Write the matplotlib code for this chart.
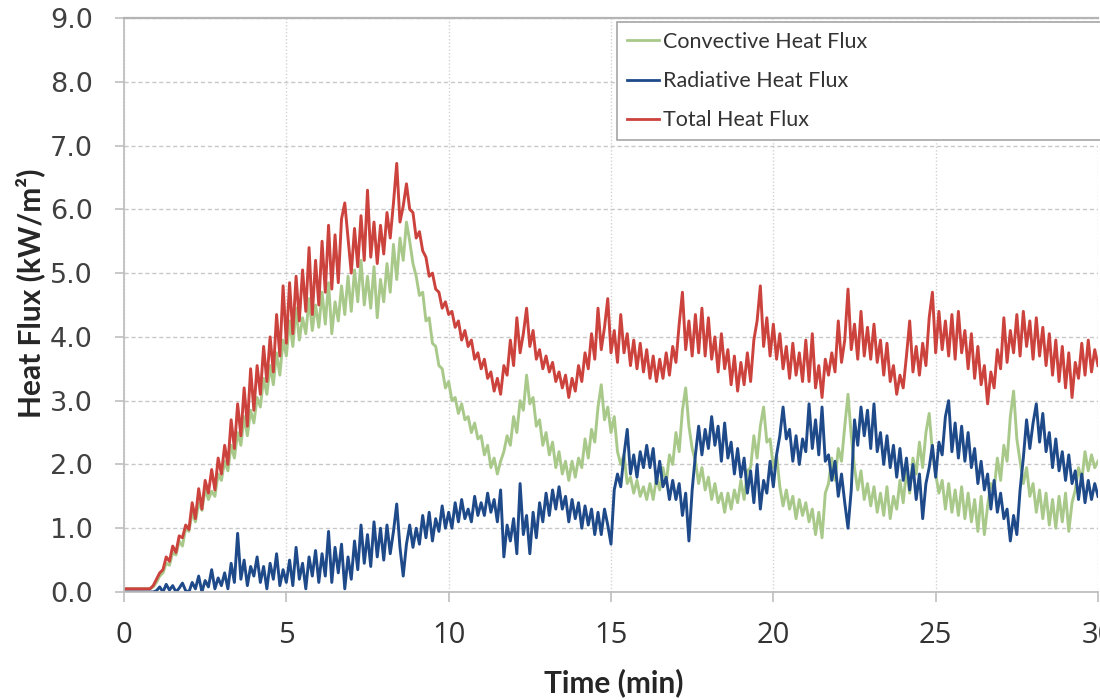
import numpy as np
import matplotlib.pyplot as plt
from matplotlib.ticker import FormatStrFormatter

# one sample every 0.1 min, 0 .. 30 min
time_min = np.round(np.arange(301) * 0.1, 1)

convective = [
    0.05, 0.05, 0.05, 0.05, 0.05, 0.05, 0.05, 0.05, 0.05, 0.08,
    0.15, 0.25, 0.30, 0.45, 0.42, 0.62, 0.58, 0.80, 0.72, 1.00,
    0.95, 1.25, 1.10, 1.40, 1.28, 1.62, 1.45, 1.58, 1.50, 1.85,
    1.75, 2.05, 1.90, 2.30, 2.10, 2.50, 2.30, 2.75, 2.45, 2.85,
    2.65, 3.05, 2.90, 3.35, 3.10, 3.55, 3.25, 3.75, 3.40, 3.95,
    3.70, 4.25, 3.85, 4.45, 3.95, 4.30, 4.05, 4.60, 4.10, 4.50,
    4.15, 4.70, 4.20, 4.85, 4.05, 4.55, 4.25, 4.80, 4.35, 4.95,
    4.40, 5.05, 4.55, 5.20, 4.50, 4.95, 4.45, 5.10, 4.30, 4.90,
    4.55, 5.15, 4.70, 5.45, 4.90, 5.55, 5.20, 5.80, 5.50, 5.15,
    4.95, 4.65, 4.70, 4.25, 4.30, 3.90, 3.85, 3.55, 3.50, 3.20,
    3.30, 3.00, 3.05, 2.80, 2.95, 2.70, 2.75, 2.50, 2.65, 2.40,
    2.45, 2.15, 2.30, 1.95, 2.10, 1.85, 2.05, 2.20, 2.45, 2.30,
    2.75, 2.50, 3.00, 2.85, 3.40, 2.95, 3.05, 2.60, 2.70, 2.30,
    2.50, 2.15, 2.35, 1.95, 2.20, 1.85, 2.05, 1.75, 2.05, 1.80,
    2.10, 1.95, 2.40, 2.10, 2.55, 2.35, 2.90, 3.25, 2.70, 2.90,
    2.50, 2.75, 2.20, 2.00, 2.15, 1.70, 1.80, 1.55, 1.75, 1.50,
    1.65, 1.45, 1.70, 1.45, 1.80, 1.60, 1.95, 1.70, 2.15, 2.00,
    2.50, 2.20, 2.85, 3.20, 2.60, 2.25, 2.05, 1.70, 1.95, 1.60,
    1.80, 1.45, 1.70, 1.40, 1.55, 1.25, 1.55, 1.30, 1.60, 1.40,
    1.75, 1.45, 1.90, 1.95, 2.45, 2.10, 2.60, 2.90, 2.35, 2.40,
    1.95, 2.15, 1.65, 1.35, 1.60, 1.30, 1.50, 1.15, 1.45, 1.20,
    1.40, 1.10, 1.30, 0.90, 1.25, 0.85, 1.55, 1.70, 2.10, 1.75,
    2.25, 2.05, 2.60, 3.10, 2.45, 1.95, 1.60, 1.90, 1.45, 1.70,
    1.35, 1.65, 1.25, 1.55, 1.20, 1.65, 1.15, 1.50, 1.30, 1.75,
    1.40, 1.90, 1.55, 2.10, 1.85, 2.35, 1.95, 2.50, 2.80, 2.20,
    1.85, 1.55, 1.75, 1.30, 1.70, 1.25, 1.60, 1.20, 1.65, 1.15,
    1.55, 1.10, 1.45, 0.95, 1.50, 0.90, 1.35, 1.70, 1.60, 2.10,
    1.75, 2.30, 2.05, 2.75, 3.15, 2.40, 2.05, 1.70, 1.95, 1.50,
    1.70, 1.25, 1.60, 1.15, 1.55, 1.05, 1.45, 1.00, 1.50, 1.10,
    1.55, 0.95, 1.40, 1.60, 1.95, 1.75, 2.20, 1.90, 2.15, 1.95,
    2.05,
]

radiative = [
    0.00, 0.00, 0.00, 0.00, 0.00, 0.00, 0.00, 0.00, 0.00, 0.00,
    0.02, 0.08, 0.00, 0.12, 0.03, 0.10, 0.00, 0.06, 0.14, 0.02,
    0.00, 0.15, 0.05, 0.25, 0.00, 0.18, 0.08, 0.35, 0.05, 0.22,
    0.10, 0.30, 0.05, 0.45, 0.15, 0.92, 0.20, 0.50, 0.10, 0.40,
    0.25, 0.55, 0.15, 0.40, 0.05, 0.45, 0.20, 0.60, 0.10, 0.35,
    0.15, 0.50, 0.10, 0.70, 0.20, 0.45, 0.05, 0.55, 0.25, 0.65,
    0.15, 0.60, 0.25, 0.95, 0.15, 0.70, 0.30, 0.75, 0.05, 0.55,
    0.20, 0.80, 0.35, 1.05, 0.45, 0.90, 0.40, 1.10, 0.55, 1.00,
    0.50, 1.05, 0.60, 0.95, 1.38, 0.70, 0.25, 0.75, 1.05, 0.70,
    1.00, 0.75, 1.20, 0.85, 1.25, 0.80, 1.15, 0.95, 1.35, 1.00,
    1.25, 1.00, 1.40, 1.10, 1.45, 1.15, 1.30, 1.10, 1.50, 1.20,
    1.40, 1.20, 1.55, 1.25, 1.45, 1.10, 1.60, 0.55, 1.05, 0.80,
    1.15, 0.60, 1.70, 0.90, 1.20, 0.60, 1.25, 0.85, 1.40, 1.10,
    1.55, 1.20, 1.60, 1.30, 1.65, 1.30, 1.50, 1.10, 1.45, 1.15,
    1.40, 1.00, 1.35, 1.05, 1.30, 0.90, 1.25, 0.90, 1.30, 1.05,
    0.75, 1.60, 1.85, 1.65, 2.15, 2.55, 1.85, 2.15, 1.80, 2.20,
    1.95, 2.30, 1.95, 2.25, 1.70, 2.05, 1.65, 1.80, 1.45, 1.75,
    1.45, 1.70, 1.20, 1.55, 0.80, 1.60, 2.15, 2.60, 2.15, 2.55,
    2.25, 2.75, 2.30, 2.60, 2.05, 2.65, 2.10, 2.35, 1.85, 2.25,
    1.80, 2.10, 1.55, 1.90, 1.40, 2.00, 1.30, 1.75, 1.55, 2.05,
    1.65, 2.15, 2.45, 2.90, 2.40, 2.55, 2.05, 2.45, 2.00, 2.40,
    2.20, 2.95, 2.25, 2.70, 2.15, 2.90, 2.05, 2.15, 1.75, 2.05,
    1.50, 1.85, 1.40, 1.00, 1.60, 2.70, 2.30, 2.90, 2.45, 2.85,
    2.25, 2.95, 2.20, 2.50, 2.00, 2.45, 1.95, 2.30, 1.80, 2.25,
    1.75, 2.10, 1.60, 2.00, 1.45, 1.85, 1.15, 1.70, 1.95, 2.30,
    1.80, 2.35, 2.15, 2.75, 3.00, 2.20, 2.65, 2.10, 2.60, 2.05,
    2.50, 1.95, 2.25, 1.70, 2.05, 1.60, 1.85, 1.30, 1.75, 1.25,
    1.55, 1.15, 1.30, 0.80, 1.20, 0.90, 1.60, 2.10, 2.70, 2.25,
    2.65, 2.95, 2.35, 2.80, 2.20, 2.50, 1.95, 2.40, 1.90, 2.20,
    1.75, 2.15, 1.70, 1.90, 1.45, 1.85, 1.40, 1.75, 1.45, 1.70,
    1.50,
]

total = [
    0.05, 0.05, 0.05, 0.05, 0.05, 0.05, 0.05, 0.05, 0.05, 0.10,
    0.20, 0.30, 0.35, 0.55, 0.48, 0.72, 0.62, 0.88, 0.85, 1.05,
    0.98, 1.40, 1.15, 1.62, 1.30, 1.75, 1.55, 1.92, 1.60, 2.10,
    1.85, 2.30, 2.00, 2.70, 2.25, 2.95, 2.45, 3.20, 2.60, 3.50,
    2.85, 3.55, 3.10, 3.85, 3.30, 4.00, 3.45, 4.35, 3.70, 4.80,
    3.90, 4.85, 4.05, 4.95, 4.25, 5.05, 4.40, 5.40, 4.35, 5.20,
    4.50, 5.50, 4.70, 5.75, 4.75, 5.60, 4.85, 5.85, 6.10, 5.55,
    5.00, 5.70, 5.10, 5.90, 5.20, 6.30, 5.25, 5.80, 5.15, 5.75,
    5.30, 5.95, 5.55, 6.10, 6.72, 5.80, 6.05, 6.40, 6.00, 5.95,
    5.55, 5.65, 5.35, 5.25, 4.95, 5.00, 4.75, 4.70, 4.45, 4.55,
    4.35, 4.40, 4.15, 4.25, 3.95, 4.10, 3.85, 3.95, 3.65, 3.75,
    3.50, 3.65, 3.35, 3.45, 3.15, 3.35, 3.10, 3.55, 3.40, 3.95,
    3.55, 4.30, 3.75, 4.05, 4.45, 3.85, 4.10, 3.65, 3.80, 3.50,
    3.70, 3.45, 3.60, 3.30, 3.45, 3.20, 3.40, 3.05, 3.35, 3.15,
    3.55, 3.30, 3.75, 3.50, 4.05, 3.65, 4.45, 3.80, 4.15, 4.60,
    3.75, 4.10, 3.60, 4.35, 3.75, 4.05, 3.55, 3.95, 3.50, 3.90,
    3.45, 3.80, 3.35, 3.70, 3.30, 3.65, 3.35, 3.75, 3.40, 3.85,
    3.60, 4.20, 4.70, 3.80, 4.25, 3.70, 4.35, 3.75, 4.45, 3.70,
    4.30, 3.65, 4.00, 3.45, 4.05, 3.50, 3.80, 3.25, 3.70, 3.15,
    3.60, 3.25, 3.75, 3.30, 3.95, 4.25, 4.80, 3.85, 4.30, 3.70,
    4.20, 3.65, 4.05, 3.50, 3.85, 3.35, 3.90, 3.40, 3.75, 3.30,
    3.95, 3.30, 4.05, 3.20, 3.55, 3.05, 3.65, 3.40, 3.75, 3.45,
    4.25, 3.60, 3.95, 4.75, 3.80, 4.20, 3.65, 4.40, 3.70, 4.15,
    3.65, 4.20, 3.60, 3.95, 3.40, 3.90, 3.30, 3.55, 3.10, 3.40,
    3.20, 3.70, 4.25, 3.45, 3.85, 3.40, 3.90, 3.55, 4.30, 4.70,
    3.75, 4.40, 3.80, 4.25, 3.70, 4.35, 3.65, 4.40, 3.75, 4.10,
    3.50, 4.05, 3.35, 3.85, 3.25, 3.55, 2.95, 3.45, 3.20, 3.80,
    3.50, 4.30, 3.60, 4.10, 3.75, 4.35, 3.70, 4.40, 3.85, 4.25,
    3.65, 4.30, 3.70, 4.15, 3.55, 4.05, 3.40, 3.95, 3.30, 3.85,
    3.20, 3.75, 3.05, 3.60, 3.35, 3.90, 3.40, 3.95, 3.45, 3.80,
    3.55,
]

series_labels = ["Convective Heat Flux", "Radiative Heat Flux", "Total Heat Flux"]
series_colors = ["#A9C98B", "#1F4A8A", "#CC423D"]
x_ticks = [0, 5, 10, 15, 20, 25, 30]
y_ticks = [0, 1, 2, 3, 4, 5, 6, 7, 8, 9]

fig = plt.figure(figsize=(11, 7), dpi=100)
ax = fig.add_axes([124 / 1100, 108 / 700, 974 / 1100, 574 / 700])

for values, label, color in zip([convective, radiative, total], series_labels, series_colors):
    ax.plot(time_min, values, color=color, lw=2.1, label=label)

ax.set_xlim(0, 30)
ax.set_ylim(0, 9)
ax.set_xticks(x_ticks)
ax.set_yticks(y_ticks)
ax.yaxis.set_major_formatter(FormatStrFormatter("%.1f"))

# Excel-like grid: dashed horizontals, dotted verticals
ax.set_axisbelow(True)
ax.grid(axis="y", color="#C8C8C8", ls=(0, (3, 2)), lw=1.0)
ax.grid(axis="x", color="#D2D2D2", ls=(0, (1, 1.5)), lw=1.0)

ax.spines["right"].set_visible(False)
for side in ["left", "bottom"]:
    ax.spines[side].set_color("#BFBFBF")
    ax.spines[side].set_linewidth(1.3)
ax.spines["top"].set_color("#B4B4B4")
ax.spines["top"].set_linewidth(1.6)

ax.tick_params(axis="y", length=6.5, width=1.2, color="#BFBFBF", pad=16,
               labelsize=19.5, labelcolor="#404040")
ax.tick_params(axis="x", length=7, width=1.2, color="#BFBFBF", pad=14,
               labelsize=21, labelcolor="#333333")
for lbl in ax.get_xticklabels():
    lbl.set_fontfamily("Open Sans")

fig.text(614 / 1100, 1 - 683 / 700, "Time (min)", ha="center", va="center",
         fontsize=21.5, fontweight="bold", family="Lato", color="#262626")
fig.text(30 / 1100, 1 - 293 / 700, "Heat Flux (kW/m²)", rotation=90,
         ha="center", va="center", fontsize=21.5, fontweight="bold",
         family="Lato", color="#262626")

leg = ax.legend(loc="upper left", bbox_to_anchor=(617 / 1100, 0, 700 / 1100, 678 / 700),
                bbox_transform=fig.transFigure, mode="expand", borderaxespad=0,
                prop={"family": "Lato", "size": 15.5}, handlelength=1.5,
                handletextpad=0.2, labelspacing=0.9, borderpad=0.45,
                fancybox=False, edgecolor="#A6A6A6", framealpha=1)
leg.get_frame().set_linewidth(1.2)
for line in leg.get_lines():
    line.set_linewidth(2)
for txt in leg.get_texts():
    txt.set_color("#333333")

fig.savefig("out.png", dpi=100)
